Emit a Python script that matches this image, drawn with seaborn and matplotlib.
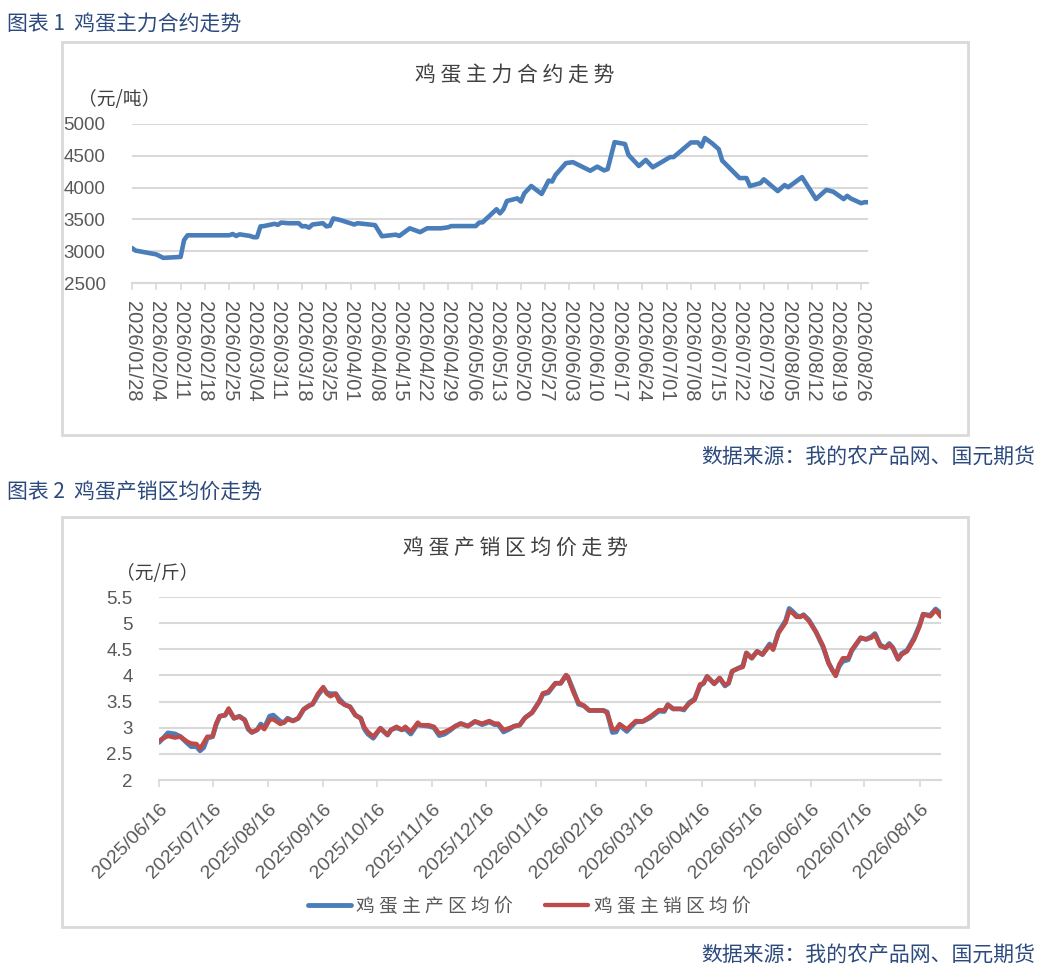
import pandas as pd
import matplotlib
matplotlib.use("Agg")
import matplotlib.pyplot as plt
import matplotlib.dates as mdates
from matplotlib.patches import Rectangle
import seaborn as sns

# 图表1 鸡蛋主力合约 (元/吨)
fut_dates = [
    "2026-01-28", "2026-01-29", "2026-02-04", "2026-02-06", "2026-02-11", "2026-02-12", "2026-02-13",
    "2026-02-25", "2026-02-26", "2026-02-27", "2026-02-28", "2026-03-03", "2026-03-04", "2026-03-05",
    "2026-03-06", "2026-03-07", "2026-03-10", "2026-03-11", "2026-03-12", "2026-03-14", "2026-03-17",
    "2026-03-18", "2026-03-19", "2026-03-20", "2026-03-21", "2026-03-24", "2026-03-25", "2026-03-26",
    "2026-03-27", "2026-03-29", "2026-04-02", "2026-04-03", "2026-04-08", "2026-04-10", "2026-04-14",
    "2026-04-15", "2026-04-18", "2026-04-21", "2026-04-23", "2026-04-27", "2026-04-29", "2026-04-30",
    "2026-05-07", "2026-05-08", "2026-05-09", "2026-05-13", "2026-05-14", "2026-05-15", "2026-05-16",
    "2026-05-19", "2026-05-20", "2026-05-21", "2026-05-23", "2026-05-26", "2026-05-28", "2026-05-29",
    "2026-05-30", "2026-06-02", "2026-06-04", "2026-06-09", "2026-06-11", "2026-06-13", "2026-06-14",
    "2026-06-16", "2026-06-19", "2026-06-20", "2026-06-23", "2026-06-25", "2026-06-27", "2026-06-30",
    "2026-07-02", "2026-07-03", "2026-07-08", "2026-07-10", "2026-07-11", "2026-07-12", "2026-07-14",
    "2026-07-16", "2026-07-17", "2026-07-22", "2026-07-24", "2026-07-25", "2026-07-28", "2026-07-29",
    "2026-08-02", "2026-08-04", "2026-08-05", "2026-08-09", "2026-08-13", "2026-08-16", "2026-08-18",
    "2026-08-21", "2026-08-22", "2026-08-23", "2026-08-26", "2026-08-27", "2026-08-28",
]
fut_price = [
    3050, 3010, 2950, 2895, 2910, 3175, 3250,
    3250, 3270, 3240, 3265, 3240, 3220, 3220,
    3390, 3395, 3430, 3415, 3450, 3440, 3440,
    3390, 3395, 3370, 3420, 3440, 3390, 3400,
    3515, 3490, 3420, 3440, 3410, 3235, 3260,
    3240, 3360, 3300, 3360, 3360, 3375, 3395,
    3395, 3450, 3455, 3660, 3595, 3660, 3790,
    3830, 3780, 3910, 4025, 3900, 4110, 4095,
    4200, 4385, 4400, 4265, 4330, 4270, 4290,
    4715, 4685, 4515, 4340, 4435, 4320, 4415,
    4480, 4480, 4710, 4710, 4645, 4780, 4700,
    4605, 4425, 4150, 4150, 4025, 4070, 4130,
    3945, 4040, 4005, 4165, 3820, 3965, 3935,
    3820, 3870, 3830, 3755, 3770, 3770,
]

# 图表2 鸡蛋产销区均价 (元/斤)
spot_dates = [
    "2025-06-16", "2025-06-18", "2025-06-21", "2025-06-25", "2025-06-28", "2025-07-02", "2025-07-04",
    "2025-07-07", "2025-07-09", "2025-07-11", "2025-07-13", "2025-07-16", "2025-07-18", "2025-07-20",
    "2025-07-23", "2025-07-25", "2025-07-28", "2025-07-31", "2025-08-03", "2025-08-05", "2025-08-07",
    "2025-08-10", "2025-08-12", "2025-08-14", "2025-08-17", "2025-08-19", "2025-08-23", "2025-08-25",
    "2025-08-27", "2025-08-30", "2025-09-02", "2025-09-05", "2025-09-08", "2025-09-10", "2025-09-13",
    "2025-09-16", "2025-09-18", "2025-09-20", "2025-09-23", "2025-09-25", "2025-09-28", "2025-10-01",
    "2025-10-04", "2025-10-07", "2025-10-09", "2025-10-11", "2025-10-14", "2025-10-18", "2025-10-22",
    "2025-10-24", "2025-10-27", "2025-10-30", "2025-11-01", "2025-11-04", "2025-11-08", "2025-11-09",
    "2025-11-14", "2025-11-17", "2025-11-20", "2025-11-23", "2025-11-26", "2025-11-29", "2025-12-02",
    "2025-12-06", "2025-12-10", "2025-12-14", "2025-12-18", "2025-12-21", "2025-12-23", "2025-12-26",
    "2025-12-29", "2026-01-01", "2026-01-04", "2026-01-07", "2026-01-11", "2026-01-15", "2026-01-17",
    "2026-01-20", "2026-01-24", "2026-01-27", "2026-01-30", "2026-01-31", "2026-02-03", "2026-02-06",
    "2026-02-09", "2026-02-12", "2026-02-20", "2026-02-22", "2026-02-25", "2026-02-27", "2026-03-01",
    "2026-03-05", "2026-03-10", "2026-03-14", "2026-03-18", "2026-03-23", "2026-03-26", "2026-03-28",
    "2026-03-31", "2026-04-04", "2026-04-06", "2026-04-09", "2026-04-12", "2026-04-15", "2026-04-17",
    "2026-04-19", "2026-04-23", "2026-04-26", "2026-04-29", "2026-05-01", "2026-05-03", "2026-05-06",
    "2026-05-09", "2026-05-11", "2026-05-14", "2026-05-17", "2026-05-20", "2026-05-24", "2026-05-26",
    "2026-05-29", "2026-06-02", "2026-06-04", "2026-06-06", "2026-06-08", "2026-06-10", "2026-06-12",
    "2026-06-15", "2026-06-19", "2026-06-23", "2026-06-26", "2026-06-28", "2026-06-30", "2026-07-02",
    "2026-07-04", "2026-07-07", "2026-07-09", "2026-07-14", "2026-07-17", "2026-07-20", "2026-07-22",
    "2026-07-25", "2026-07-28", "2026-07-30", "2026-08-01", "2026-08-04", "2026-08-06", "2026-08-09",
    "2026-08-13", "2026-08-16", "2026-08-18", "2026-08-22", "2026-08-25", "2026-08-28",
]
sales_price = [
    2.75, 2.79, 2.84, 2.81, 2.83, 2.73, 2.70,
    2.69, 2.60, 2.71, 2.83, 2.83, 3.08, 3.22,
    3.24, 3.37, 3.18, 3.21, 3.15, 2.99, 2.91,
    2.96, 3.03, 2.97, 3.15, 3.16, 3.07, 3.10,
    3.16, 3.13, 3.18, 3.35, 3.42, 3.45, 3.65,
    3.78, 3.65, 3.60, 3.65, 3.50, 3.44, 3.40,
    3.24, 3.18, 3.01, 2.92, 2.83, 2.99, 2.86,
    2.96, 3.02, 2.96, 3.02, 2.92, 3.10, 3.05,
    3.05, 3.02, 2.89, 2.92, 2.97, 3.03, 3.08,
    3.03, 3.12, 3.08, 3.13, 3.08, 3.08, 2.96,
    2.99, 3.03, 3.05, 3.19, 3.29, 3.50, 3.66,
    3.69, 3.85, 3.85, 4.01, 3.97, 3.69, 3.48,
    3.42, 3.33, 3.33, 3.28, 2.97, 2.97, 3.07,
    2.97, 3.13, 3.12, 3.21, 3.34, 3.33, 3.44,
    3.36, 3.36, 3.36, 3.46, 3.53, 3.83, 3.85,
    3.98, 3.84, 3.95, 3.82, 3.85, 4.08, 4.13,
    4.16, 4.43, 4.33, 4.46, 4.40, 4.57, 4.49,
    4.81, 5.01, 5.23, 5.19, 5.12, 5.12, 5.15,
    5.04, 4.83, 4.56, 4.24, 4.11, 3.99, 4.21,
    4.33, 4.33, 4.49, 4.72, 4.69, 4.72, 4.78,
    4.56, 4.53, 4.59, 4.53, 4.31, 4.40, 4.46,
    4.69, 4.94, 5.17, 5.13, 5.25, 5.12,
]
prod_price = [
    2.72, 2.79, 2.90, 2.88, 2.83, 2.70, 2.64,
    2.64, 2.56, 2.62, 2.80, 2.83, 3.06, 3.22,
    3.24, 3.35, 3.18, 3.22, 3.15, 2.97, 2.91,
    2.96, 3.07, 3.00, 3.22, 3.24, 3.12, 3.10,
    3.18, 3.13, 3.18, 3.35, 3.42, 3.45, 3.62,
    3.76, 3.67, 3.65, 3.65, 3.55, 3.44, 3.40,
    3.24, 3.18, 2.98, 2.88, 2.80, 2.99, 2.86,
    2.96, 3.00, 2.96, 2.98, 2.88, 3.08, 3.05,
    3.03, 3.00, 2.85, 2.88, 2.95, 3.03, 3.08,
    3.03, 3.12, 3.06, 3.11, 3.06, 3.06, 2.92,
    2.97, 3.03, 3.05, 3.19, 3.29, 3.50, 3.64,
    3.67, 3.85, 3.85, 4.00, 3.97, 3.72, 3.45,
    3.42, 3.33, 3.33, 3.30, 2.91, 2.92, 3.05,
    2.93, 3.11, 3.12, 3.19, 3.32, 3.31, 3.44,
    3.36, 3.36, 3.34, 3.48, 3.55, 3.80, 3.85,
    3.98, 3.84, 3.95, 3.80, 3.85, 4.08, 4.13,
    4.18, 4.43, 4.33, 4.46, 4.40, 4.60, 4.51,
    4.83, 5.05, 5.28, 5.22, 5.15, 5.12, 5.16,
    5.06, 4.83, 4.54, 4.24, 4.11, 4.00, 4.18,
    4.27, 4.30, 4.47, 4.72, 4.69, 4.74, 4.80,
    4.58, 4.53, 4.61, 4.53, 4.31, 4.42, 4.48,
    4.72, 4.96, 5.17, 5.15, 5.27, 5.18,
]

fut_dates = pd.to_datetime(fut_dates)
spot_dates = pd.to_datetime(spot_dates)

sns.set_theme(style="white")
plt.rcParams["font.family"] = ["Liberation Sans", "Noto Sans CJK SC", "DejaVu Sans"]
CJK = ["Noto Sans CJK SC", "DejaVu Sans"]

navy = "#2C4A7E"
grid_c = "#D9D9D9"
tick_c = "#595959"
title_c = "#404040"
blue = "#4A7EBB"
red = "#BE4B48"

W, H = 1050, 972
fig = plt.figure(figsize=(W / 100, H / 100), dpi=100)


def fx(px):
    return px / W


def fy(py):
    return 1 - py / H


def style_axes(ax):
    for s in ["left", "right", "top"]:
        ax.spines[s].set_visible(False)
    ax.spines["bottom"].set_color(grid_c)
    ax.spines["bottom"].set_linewidth(1.5)
    ax.yaxis.grid(True, color=grid_c, linewidth=1.5)
    ax.xaxis.grid(False)
    ax.set_axisbelow(True)
    ax.tick_params(axis="y", length=0, pad=19, labelsize=13.5, labelcolor=tick_c)
    ax.tick_params(axis="x", bottom=True, direction="out", length=5, width=1.2,
                   color=grid_c, labelsize=14, labelcolor=tick_c)
    ax.set_xlabel("")
    ax.set_ylabel("")


# boxes around the two charts
for (x0, y0, x1, y1) in [(62, 42, 968, 435), (62, 517, 968, 927)]:
    fig.patches.append(Rectangle((fx(x0), fy(y1)), fx(x1) - fx(x0), fy(y0) - fy(y1),
                                 transform=fig.transFigure, fill=False,
                                 edgecolor=grid_c, linewidth=2))

# ---- 图表1 ----
fig.text(fx(7), fy(24), "图表 1  鸡蛋主力合约走势", family=CJK, fontsize=15,
         color=navy, weight="medium", va="center", ha="left")
fig.text(fx(515), fy(75), " ".join("鸡蛋主力合约走势"), family=CJK, fontsize=15,
         color=title_c, va="center", ha="center")
fig.text(fx(78), fy(100), "（元/吨）", family=CJK, fontsize=13.5,
         color=title_c, va="center", ha="left")

ax1 = fig.add_axes([fx(132), fy(283), fx(868) - fx(132), fy(124) - fy(283)])
sns.lineplot(x=fut_dates, y=fut_price, ax=ax1, color=blue, linewidth=3.3,
             solid_capstyle="round", solid_joinstyle="round")
ax1.set_ylim(2500, 5000)
ax1.set_yticks([2500, 3000, 3500, 4000, 4500, 5000])
ax1.set_xlim(pd.Timestamp("2026-01-28"), pd.Timestamp("2026-08-28"))
ax1.set_xticks(pd.date_range("2026-01-28", "2026-08-26", freq="7D"))
ax1.xaxis.set_major_formatter(mdates.DateFormatter("%Y/%m/%d"))
style_axes(ax1)
ax1.tick_params(axis="x", pad=8, labelsize=14.5)
for lab in ax1.get_xticklabels():
    lab.set_rotation(-90)
    lab.set_ha("center")
    lab.set_va("top")

fig.text(fx(1035), fy(457), "数据来源：我的农产品网、国元期货", family=CJK, fontsize=15,
         color=navy, weight="medium", va="center", ha="right")

# ---- 图表2 ----
fig.text(fx(7), fy(492), "图表 2  鸡蛋产销区均价走势", family=CJK, fontsize=15,
         color=navy, weight="medium", va="center", ha="left")
fig.text(fx(515), fy(548), " ".join("鸡蛋产销区均价走势"), family=CJK, fontsize=15,
         color=title_c, va="center", ha="center")
fig.text(fx(116), fy(573), "（元/斤）", family=CJK, fontsize=13.5,
         color=title_c, va="center", ha="left")

ax2 = fig.add_axes([fx(159), fy(780), fx(941) - fx(159), fy(597) - fy(780)])
sns.lineplot(x=spot_dates, y=prod_price, ax=ax2, color=blue, linewidth=3.5,
             label=" ".join("鸡蛋主产区均价"), solid_capstyle="round", solid_joinstyle="round")
sns.lineplot(x=spot_dates, y=sales_price, ax=ax2, color=red, linewidth=3.1,
             label=" ".join("鸡蛋主销区均价"), solid_capstyle="round", solid_joinstyle="round")
ax2.set_ylim(2, 5.5)
ax2.set_yticks([2, 2.5, 3, 3.5, 4, 4.5, 5, 5.5])
ax2.set_yticklabels(["2", "2.5", "3", "3.5", "4", "4.5", "5", "5.5"])
ax2.set_xlim(pd.Timestamp("2025-06-16"), pd.Timestamp("2026-08-28"))
ax2.xaxis.set_major_locator(mdates.MonthLocator(bymonthday=16))
ax2.xaxis.set_major_formatter(mdates.DateFormatter("%Y/%m/%d"))
style_axes(ax2)
ax2.tick_params(axis="x", pad=10)
for lab in ax2.get_xticklabels():
    lab.set_rotation(45)
    lab.set_ha("right")
    lab.set_va("top")
    lab.set_rotation_mode("anchor")

handles, labels = ax2.get_legend_handles_labels()
ax2.get_legend().remove()
fig.legend(handles, labels, loc="center", bbox_to_anchor=(fx(529), fy(906)), ncol=2,
           frameon=False, prop={"family": CJK, "size": 13.5}, labelcolor=tick_c,
           handlelength=2.3, handletextpad=0.3, columnspacing=1.7)

fig.text(fx(1035), fy(955), "数据来源：我的农产品网、国元期货", family=CJK, fontsize=15,
         color=navy, weight="medium", va="center", ha="right")

fig.savefig("out.png", dpi=100)
